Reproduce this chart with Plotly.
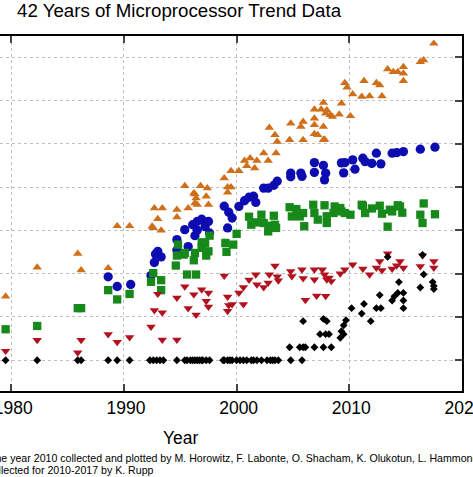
import plotly.graph_objects as go

# ---------------- data ----------------
transistor_year = [1979.5, 1982.3, 1985.9, 1986.2, 1988.6, 1989.4, 1990.5, 1992.5, 1992.6, 1992.7,
                   1993.0, 1993.3, 1993.4, 1994.7, 1994.7, 1995.4, 1995.7, 1996.2, 1996.3, 1996.3,
                   1996.4, 1996.5, 1996.8, 1997.3, 1997.4, 1997.5, 1998.9, 1999.2, 1999.5, 1999.2,
                   1999.5, 2000.2, 2000.7, 2000.9, 2001.2, 2001.6, 2001.8, 2002.4, 2002.8, 2003.5,
                   2002.9, 2003.4, 2003.6, 2004.8, 2004.7, 2005.7, 2005.9, 2005.9, 2006.9, 2006.9,
                   2006.9, 2006.9, 2007.5, 2007.9, 2007.7, 2007.7, 2007.7, 2007.2, 2007.8, 2008.0,
                   2008.3, 2008.5, 2009.1, 2009.3, 2010.1, 2009.6, 2009.8, 2010.3, 2011.1, 2011.8,
                   2012.9, 2011.3, 2012.4, 2012.7, 2013.4, 2013.9, 2014.3, 2014.8, 2014.8, 2014.8,
                   2016.3, 2016.6, 2017.5]
transistor_k = [30, 140, 290, 120, 135, 1260, 1260, 1240, 1140, 3280,
                1830, 1000, 3280, 3000, 2010, 10700, 3280, 7260, 4280, 6890,
                5580, 3910, 10700, 6070, 9480, 3910, 16100, 10000, 10000, 7500,
                23700, 23700, 40900, 30900, 46500, 27400, 40900, 60600, 40900, 60600,
                235000, 160000, 112000, 297000, 123000, 248000, 324000, 123000, 387000, 272000,
                169000, 625000, 625000, 505000, 887000, 248000, 123000, 160000, 127000, 602000,
                462000, 422000, 479000, 859000, 438000, 2560000, 2000000, 1410000, 1220000, 1260000,
                1260000, 2840000, 2560000, 2260000, 5280000, 4580000, 4580000, 5970000, 4200000, 2840000,
                7800000, 8500000, 20700000]

perf_year = [1988.6, 1989.4, 1990.6, 1992.4, 1992.7, 1992.8, 1993.0, 1993.3, 1994.7, 1994.7,
             1995.4, 1995.7, 1996.1, 1996.5, 1996.9, 1996.3, 1996.5, 1997.2, 1997.5, 1997.6,
             1998.9, 1999.2, 1999.3, 1999.6, 2000.2, 2000.7, 2001.1, 2001.5, 2001.7, 2002.4,
             2002.8, 2003.3, 2003.6, 2004.8, 2004.8, 2005.7, 2005.8, 2006.9, 2006.9, 2007.7,
             2007.9, 2007.8, 2009.3, 2009.6, 2010.3, 2009.5, 2010.5, 2011.2, 2011.4, 2012.0,
             2012.4, 2012.8, 2013.8, 2014.2, 2014.8, 2016.3, 2017.6]
perf_specint_k = [84.6, 50.6, 56.2, 90.6, 181, 283, 329, 244, 611, 350,
                  1040, 422, 1350, 1610, 1810, 755, 1010, 1220, 1610, 871,
                  3610, 1140, 2620, 1930, 3570, 4830, 5820, 6140, 4420, 9480,
                  9480, 11000, 13700, 21000, 17300, 21000, 17700, 36800, 21900, 31700,
                  21000, 14700, 36200, 36800, 42500, 21300, 25900, 46500, 38800, 35300,
                  60600, 34400, 60600, 62500, 65900, 75000, 83400]

freq_year = [1979.5, 1982.3, 1985.9, 1986.2, 1988.6, 1989.4, 1990.5, 1992.4, 1992.6, 1993.3,
             1993.3, 1994.6, 1994.7, 1994.8, 1995.3, 1995.4, 1995.6, 1996.4, 1996.2, 1996.3,
             1996.9, 1996.9, 1997.2, 1997.3, 1997.5, 1997.6, 1999.0, 1999.1, 1999.7, 2000.0,
             2001.1, 2001.3, 2001.7, 2002.2, 2002.4, 2002.8, 2002.9, 2003.3, 2003.4, 2003.5,
             2004.7, 2004.9, 2005.3, 2005.6, 2005.9, 2006.0, 2006.8, 2006.9, 2007.2, 2007.8,
             2008.0, 2008.0, 2008.6, 2008.7, 2009.2, 2009.3, 2009.6, 2010.1, 2011.1, 2011.2,
             2011.4, 2012.0, 2012.7, 2012.9, 2013.4, 2013.6, 2013.8, 2014.3, 2014.5, 2014.7,
             2016.6, 2016.3, 2016.5, 2017.6]
freq_mhz = [5.2, 6.2, 16, 16, 41.6, 25.4, 34, 64.9, 103, 70.6,
            41.6, 154, 262, 469, 276, 302, 95.5, 95.5, 204, 302,
            530, 394, 513, 262, 329, 755, 513, 320, 469, 832,
            2070, 1350, 1530, 2300, 1480, 949, 1280, 2180, 1350, 1140,
            3420, 2100, 3110, 2100, 2520, 1250, 3910, 2520, 1770, 3800,
            2120, 1480, 2520, 3570, 3280, 2740, 2520, 2300, 3910, 3710,
            2520, 3210, 3710, 2430, 1220, 3000, 2740, 3800, 3570, 2560,
            4190, 2300, 1480, 2360]

power_year = [1979.5, 1982.3, 1985.9, 1986.2, 1988.6, 1989.4, 1990.5, 1992.4, 1992.7, 1993.0,
              1993.4, 1993.4, 1994.7, 1994.7, 1995.4, 1995.7, 1996.2, 1996.4, 1996.9, 1997.3,
              1997.5, 1997.5, 1998.9, 1999.2, 1999.3, 1999.2, 1999.6, 2000.2, 2000.6, 2000.6,
              2001.1, 2001.7, 2001.8, 2002.4, 2002.8, 2002.9, 2003.4, 2003.6, 2003.7, 2004.8,
              2004.9, 2005.8, 2005.9, 2006.1, 2006.9, 2006.9, 2007.1, 2007.6, 2007.8, 2008.0,
              2007.9, 2008.2, 2008.4, 2009.2, 2009.6, 2010.3, 2011.2, 2011.8, 2012.4, 2012.7,
              2012.9, 2013.4, 2013.8, 2014.2, 2014.5, 2014.8, 2016.3, 2016.5, 2017.5, 2017.5]
power_w = [1.64, 2.93, 1.5, 2.93, 3.97, 2.64, 3.39, 5.9, 14.2, 34,
           2.96, 12.7, 2.96, 27.8, 50.6, 15.9, 33.1, 11.2, 43.1, 23.2,
           36.2, 17.1, 89.1, 29, 18.5, 13.6, 19.5, 36.2, 48.4, 19.5,
           72.1, 95.5, 56.2, 48.4, 61.5, 95.5, 151, 85.9, 69.5, 114,
           87.3, 124, 78.1, 24.5, 124, 73.3, 30.9, 124, 95.5, 73.3,
           30.2, 80.2, 67, 101, 124, 162, 129, 95.5, 136, 193,
           120, 291, 129, 154, 193, 136, 148, 262, 193, 136]

cores_year = [1979.5, 1982.3, 1985.9, 1986.2, 1988.6, 1989.4, 1990.5, 1992.3, 1992.6, 1992.9,
              1993.2, 1993.5, 1994.7, 1995.4, 1995.6, 1995.9, 1996.1, 1996.3, 1996.5, 1996.7,
              1996.9, 1997.0, 1997.3, 1997.6, 1998.8, 1998.9, 1999.2, 1999.4, 1999.6, 2000.0,
              2000.3, 2000.6, 2000.9, 2001.3, 2001.5, 2001.8, 2002.2, 2002.7, 2003.0, 2003.2,
              2003.4, 2003.7, 2004.8, 2005.8,
              2004.7, 2005.6, 2005.9, 2006.1, 2006.9, 2007.7, 2008.4,
              2007.4, 2007.9, 2008.2, 2009.5, 2009.2, 2009.3, 2009.5, 2009.7,
              2005.9, 2007.7, 2008.0, 2011.9, 2010.2, 2011.1, 2011.3, 2012.4, 2012.8, 2012.7,
              2013.8, 2014.0, 2014.3, 2014.4, 2014.8, 2014.8, 2014.8, 2013.4, 2016.3, 2016.6,
              2016.5, 2017.4, 2017.5, 2017.5]
cores_n = [1, 1, 1, 1, 1, 1, 1, 1, 1, 1,
           1, 1, 1, 1, 1, 1, 1, 1, 1, 1,
           1, 1, 1, 1, 1, 1, 1, 1, 1, 1,
           1, 1, 1, 1, 1, 1, 1, 1, 1, 1,
           1, 1, 1, 1,
           2, 2, 2, 2, 2, 2, 2,
           4, 4, 4, 4, 3.3, 4.7, 6.4, 8.4,
           8, 9, 8, 8, 16, 12, 20, 16, 16, 32,
           24, 30, 36, 64, 36, 24, 16, 244, 48, 96,
           272, 64, 52, 44]

series = [
    ("Transistors (thousands)", transistor_year, transistor_k, "triangle-up", 8.3, "#CF6F1A"),
    ("Single-Thread Performance (SpecINT x 10\u00b3)", perf_year, perf_specint_k, "circle", 9.3, "#0C0CB0"),
    ("Frequency (MHz)", freq_year, freq_mhz, "square", 8.3, "#17891A"),
    ("Typical Power (Watts)", power_year, power_w, "triangle-down", 8.3, "#B0131F"),
    ("Number of Logical Cores", cores_year, cores_n, "diamond", 6, "#000000"),
]

fig = go.Figure()
for name, xs, ys, sym, size, col in series:
    fig.add_trace(go.Scatter(
        x=xs, y=ys, mode="markers", name=name,
        marker=dict(symbol=sym, size=size, color=col, line=dict(width=0)),
    ))

FONT = "Liberation Sans, Arial, Helvetica, sans-serif"

fig.update_layout(
    width=473, height=477,
    margin=dict(l=0, r=11, t=36, b=86, autoexpand=False),
    paper_bgcolor="white", plot_bgcolor="white",
    showlegend=False,
    font=dict(family=FONT, color="black"),
    title=dict(text="42 Years of Microprocessor Trend Data", x=17 / 473, xanchor="left",
               xref="container", y=1 - 10 / 477, yanchor="middle", yref="container",
               font=dict(size=18.7, family=FONT, color="black")),
    xaxis=dict(range=[1979.0, 2020], tick0=1980, dtick=10, automargin=False,
               showgrid=True, gridcolor="#c0c0c0", griddash="dot", gridwidth=1,
               showline=True, linecolor="black", linewidth=2, mirror="ticks",
               ticks="inside", ticklen=7, tickwidth=1.5, tickcolor="#444",
               tickfont=dict(size=17.5, family=FONT, color="black"),
               ticklabelshift=2, ticklabeloverflow="allow", zeroline=False),
    yaxis=dict(type="log", range=[-0.71, 7.49], dtick=1, side="right", automargin=False,
               showgrid=True, gridcolor="#c0c0c0", griddash="dot", gridwidth=1,
               showline=True, linecolor="black", linewidth=2,
               ticks="inside", ticklen=7, tickwidth=1.5, tickcolor="#444",
               showticklabels=False, zeroline=False),
    annotations=[
        dict(text="Year", xref="paper", yref="paper", x=180.5 / 462, y=(391 - 438) / 355,
             xanchor="center", yanchor="middle", showarrow=False,
             font=dict(size=17.5, family=FONT, color="black")),
        dict(text="Original data up to the year 2010 collected and plotted by M. Horowitz, F. Labonte, "
                  "O. Shacham, K. Olukotun, L. Hammond, and C. Batten",
             xref="paper", yref="paper", x=-99 / 462, y=(391 - 458) / 355,
             xanchor="left", yanchor="middle", showarrow=False,
             font=dict(size=10.6, family=FONT, color="black")),
        dict(text="New plot and data collected for 2010-2017 by K. Rupp",
             xref="paper", yref="paper", x=-103 / 462, y=(391 - 470) / 355,
             xanchor="left", yanchor="middle", showarrow=False,
             font=dict(size=10.6, family=FONT, color="black")),
    ],
)

fig.write_html("out.html", config={"displayModeBar": False},
               post_script="document.body.style.margin='0';document.body.style.overflow='hidden';")
